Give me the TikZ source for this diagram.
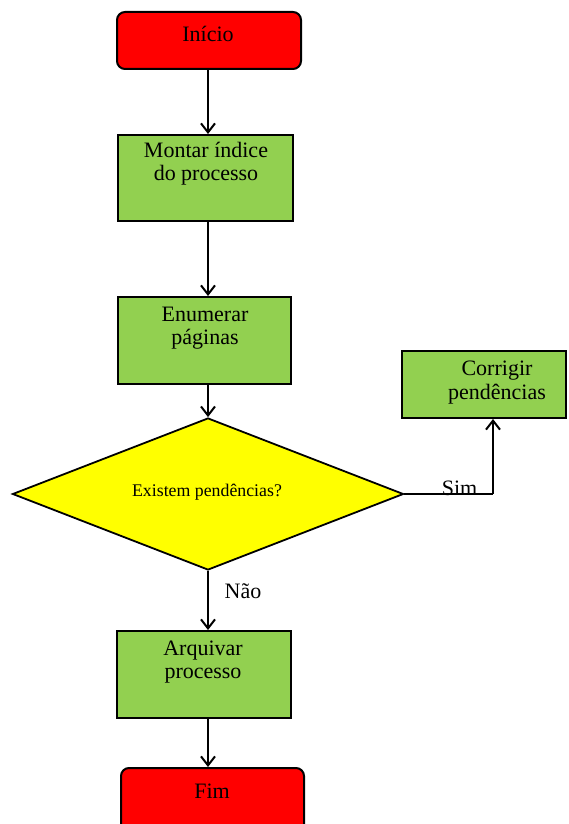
\documentclass[tikz,border=0pt]{standalone}
\usepackage{fontspec}
\setmainfont{Liberation Serif}
\usetikzlibrary{shapes.geometric,arrows.meta}
\definecolor{termred}{HTML}{FF0000}
\definecolor{stepgreen}{HTML}{92D050}
\definecolor{askyellow}{HTML}{FFFF00}
\tikzset{
  terminal/.style={draw=black, line width=1pt, fill=termred, rounded corners=4pt, inner sep=0pt},
  stepbox/.style={draw=black, line width=1pt, fill=stepgreen, inner sep=0pt},
  decision/.style={draw=black, line width=0.9pt, fill=askyellow, diamond, inner sep=0pt, aspect=2.57},
  txt/.style={align=center, inner sep=0pt, font=\fontsize{11}{11.6}\selectfont},
  flow/.style={draw=black, line width=1pt, -{Straight Barb[length=4.5pt,width=7pt,line width=1pt]}},
}
\begin{document}
\begin{tikzpicture}[x=0.5pt, y=-0.5pt]
\useasboundingbox (0,0) rectangle (568,824);
\clip (0,0) rectangle (568,824);

% process boxes
\node[terminal, minimum width=92pt, minimum height=28.5pt] (inicio) at (209,40.5) {};
\node[stepbox, minimum width=87.5pt, minimum height=43pt] (montar) at (205.5,178) {};
\node[stepbox, minimum width=86.5pt, minimum height=43.5pt] (enum) at (204.5,340.5) {};
\node[decision, minimum width=195.5pt, minimum height=76pt] (ask) at (208,494) {};
\node[stepbox, minimum width=82pt, minimum height=33.5pt] (corr) at (484,384.5) {};
\node[stepbox, minimum width=87pt, minimum height=43.5pt] (arq) at (204,674.5) {};
\node[terminal, minimum width=91.5pt, minimum height=32pt] (fim) at (212.5,800) {};

% texts
\node[txt] (tinicio) at (208,34) {Início};
\node[txt] (tmontar) at (206,164) {Montar índice\\do processo};
\node[txt] (tenum) at (205,328) {Enumerar\\páginas};
\node[txt, font=\fontsize{8.9}{10}\selectfont] (task) at (207,492) {Existem pendências?};
\node[txt] (tcorr) at (497,382.5) {Corrigir\\pendências};
\node[txt] (tarq) at (203,662) {Arquivar\\processo};
\node[txt] (tfim) at (212,791) {Fim};
\node[txt] (tnao) at (243,591) {Não};
\node[txt] (tsim) at (459.5,488) {Sim};

% connectors
\draw[flow] (inicio.south -| 208,0) -- (montar.north -| 208,0);
\draw[flow] (montar.south -| 208,0) -- (enum.north -| 208,0);
\draw[flow] (enum.south -| 208,0) -- (ask.north);
\draw[flow] (ask.south) -- (arq.north -| ask.south);
\draw[flow] (arq.south -| 208,0) -- (fim.north -| 208,0);
\coordinate (simturn) at (493,494);
\draw[line width=0.6pt] (ask.east) -- (simturn);
\draw[flow] (simturn) -- (corr.south -| simturn);
\end{tikzpicture}
\end{document}
